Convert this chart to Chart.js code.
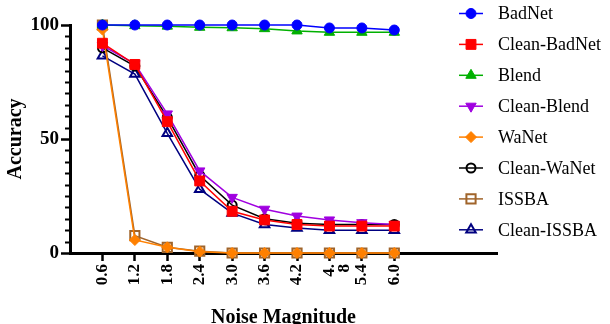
<!DOCTYPE html>
<html>
<head>
<meta charset="utf-8">
<script src="https://cdn.jsdelivr.net/npm/chart.js"></script>
<style>
  html, body { margin: 0; padding: 0; background: #fff; }
  canvas { display: block; }
</style>
</head>
<body>
<canvas id="chart" width="610" height="324"></canvas>
<script>
// Data
const noise = [0.6, 1.2, 1.8, 2.4, 3.0, 3.6, 4.2, 4.8, 5.4, 6.0];
const noiseLabels = ["0.6", "1.2", "1.8", "2.4", "3.0", "3.6", "4.2", ["4.", "8"], "5.4", "6.0"];
const yMajorTicks = [0, 50, 100];
const yMinorStep = 5;

const badNet      = [100, 100, 100, 100, 100, 100, 100, 98.7, 98.7, 97.8];
const cleanBadNet = [92, 82.7, 57.6, 31.6, 18.3, 14.5, 12.5, 11.8, 11.8, 11.8];
const blend       = [100, 99.7, 99.5, 99, 98.8, 98.4, 97.4, 96.8, 96.8, 96.8];
const cleanBlend  = [91, 83, 61, 36, 24.4, 19.2, 16.2, 14.5, 13.3, 12.5];
const waNet       = [98, 5.7, 2.5, 0.6, 0, 0, 0, 0, 0, 0];
const cleanWaNet  = [90, 82, 59.5, 34, 21, 15, 13, 12.5, 12.5, 12.5];
const issba       = [100, 7.6, 2.5, 0.8, 0, 0, 0, 0, 0, 0];
const cleanIssba  = [86.5, 78.5, 52.5, 28, 17.5, 12.5, 11, 10, 10, 10];

const FONT = "'Liberation Serif', 'Times New Roman', serif";

function series(label, values, color, pointStyle, extra) {
  return Object.assign({
    label,
    data: values.map((v, i) => ({ x: noise[i], y: v })),
    borderColor: color,
    backgroundColor: color,
    borderWidth: 1.5,
    pointStyle,
    pointRadius: 5,
    pointBorderColor: color,
    pointBackgroundColor: color,
    pointBorderWidth: 1,
    clip: false,
  }, extra);
}

// short minor ticks on the y axis, placed through the y scale
const minorTicks = {
  id: "minorTicks",
  afterDraw(chart) {
    const ctx = chart.ctx;
    const y = chart.scales.y;
    const x0 = y.right;
    ctx.save();
    ctx.strokeStyle = "#000";
    ctx.lineWidth = 2;
    for (let v = yMinorStep; v < 100; v += yMinorStep) {
      if (v % 50 === 0) continue;
      const py = Math.round(y.getPixelForValue(v)) + 0.5;
      ctx.beginPath();
      ctx.moveTo(x0 - 5, py);
      ctx.lineTo(x0, py);
      ctx.stroke();
    }
    ctx.restore();
  },
};

// legend on the right: line + marker + text
const sideLegend = {
  id: "sideLegend",
  afterDraw(chart) {
    const ctx = chart.ctx;
    ctx.save();
    ctx.font = "18px " + FONT;
    ctx.textBaseline = "middle";
    chart.data.datasets.forEach((ds, i) => {
      const y = 13.5 + i * 30.9;
      ctx.strokeStyle = ds.borderColor;
      ctx.lineWidth = 1.5;
      ctx.beginPath();
      ctx.moveTo(459, y);
      ctx.lineTo(483, y);
      ctx.stroke();
      ctx.fillStyle = ds.pointBackgroundColor;
      ctx.strokeStyle = ds.pointBorderColor;
      ctx.lineWidth = ds.pointBorderWidth;
      Chart.helpers.drawPoint(ctx, {
        pointStyle: ds.pointStyle,
        rotation: ds.pointRotation || 0,
        radius: ds.pointRadius,
        borderWidth: ds.pointBorderWidth,
      }, 471, y);
      ctx.fillStyle = "#000";
      ctx.fillText(ds.label, 498, y + 1);
    });
    ctx.restore();
  },
};

new Chart(document.getElementById("chart"), {
  type: "line",
  data: {
    datasets: [
      series("BadNet", badNet, "#0000ff", "circle", { pointRadius: 5 }),
      series("Clean-BadNet", cleanBadNet, "#ff0000", "rect", { pointRadius: 7 }),
      series("Blend", blend, "#00b000", "triangle", { pointRadius: 6 }),
      series("Clean-Blend", cleanBlend, "#a000e0", "triangle", { pointRadius: 6, pointRotation: 180 }),
      series("WaNet", waNet, "#ff8000", "rectRot", { pointRadius: 5.5 }),
      series("Clean-WaNet", cleanWaNet, "#000000", "circle", { pointRadius: 4.5, pointBackgroundColor: "rgba(0,0,0,0)", pointBorderWidth: 2 }),
      series("ISSBA", issba, "#a0642a", "rect", { pointRadius: 6.5, pointBackgroundColor: "rgba(0,0,0,0)", pointBorderWidth: 2 }),
      series("Clean-ISSBA", cleanIssba, "#000080", "triangle", { pointRadius: 5.5, pointBackgroundColor: "rgba(0,0,0,0)", pointBorderWidth: 2 }),
    ],
  },
  options: {
    responsive: false,
    animation: false,
    devicePixelRatio: 1,
    layout: { padding: { top: 25, right: 113, left: 0, bottom: 0 } },
    plugins: { legend: { display: false }, tooltip: { enabled: false } },
    scales: {
      x: {
        type: "linear",
        min: 0,
        max: 7.9,
        afterBuildTicks: (s) => { s.ticks = noise.map((v) => ({ value: v })); },
        afterFit: (s) => { s.height = 71; },
        border: { color: "#000", width: 3 },
        grid: { drawOnChartArea: false, color: "#000", tickLength: 8, tickWidth: 2.5 },
        ticks: {
          color: "#000",
          font: { family: FONT, size: 17, weight: "bold", lineHeight: 0.9 },
          minRotation: 90,
          maxRotation: 90,
          padding: 3,
          autoSkip: false,
          callback: (v, i) => noiseLabels[i],
        },
        title: {
          display: true,
          text: "Noise Magnitude",
          color: "#000",
          font: { family: FONT, size: 20, weight: "bold" },
          padding: { top: 0, bottom: -6 },
        },
      },
      y: {
        min: 0,
        max: 100,
        afterBuildTicks: (s) => { s.ticks = yMajorTicks.map((v) => ({ value: v })); },
        afterFit: (s) => { s.width = 70; },
        border: { color: "#000", width: 3 },
        grid: { drawOnChartArea: false, color: "#000", tickLength: 9, tickWidth: 2.5 },
        ticks: {
          color: "#000",
          font: { family: FONT, size: 19, weight: "bold" },
          padding: 2,
          autoSkip: false,
        },
        title: {
          display: true,
          text: "Accuracy",
          color: "#000",
          font: { family: FONT, size: 20, weight: "bold" },
          padding: { top: 4, bottom: 0 },
        },
      },
    },
  },
  plugins: [minorTicks, sideLegend],
});
</script>
</body>
</html>
